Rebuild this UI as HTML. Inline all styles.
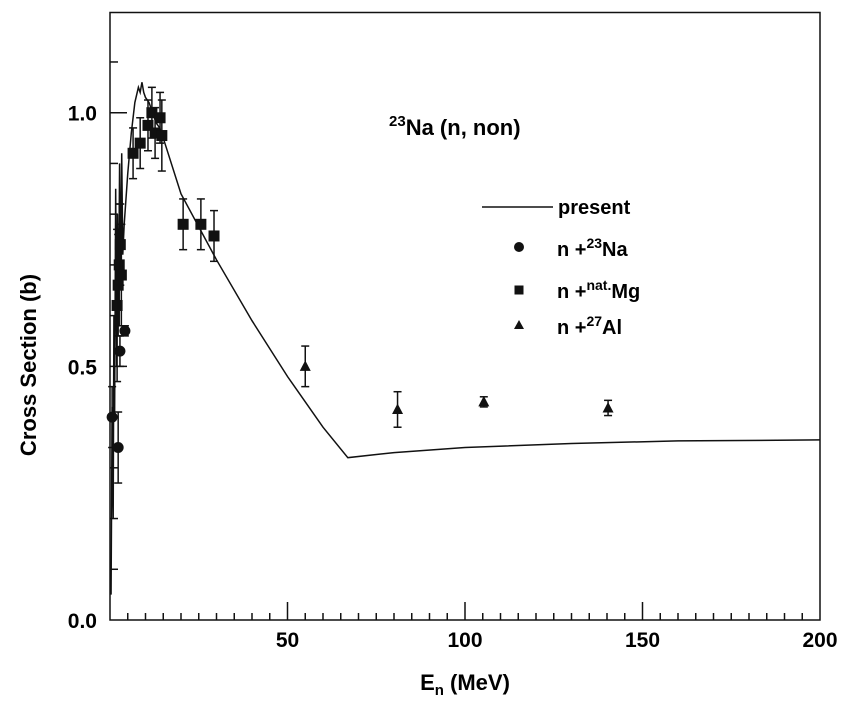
<!DOCTYPE html>
<html><head><meta charset="utf-8"><style>
body{margin:0;background:#fff}
svg{display:block;font-family:"Liberation Sans",Arial,sans-serif;font-weight:bold}
</style></head><body>
<svg id="chart" width="860" height="717" viewBox="0 0 860 717" xmlns="http://www.w3.org/2000/svg">
<g id="axes"></g>
<g id="curve"></g>
<g id="pts"></g>
<text x="389" y="135" font-size="22"><tspan font-size="15" dy="-9">23</tspan><tspan dy="9">Na (n, non)</tspan></text>
<g>
<line x1="482" y1="207" x2="553" y2="207" stroke="#111" stroke-width="1.5"/>
<text x="558" y="214" font-size="20">present</text>
<circle cx="519" cy="247" r="5" fill="#111"/>
<text x="557" y="256" font-size="20">n +<tspan font-size="14" dy="-8">23</tspan><tspan dy="8">Na</tspan></text>
<rect x="514.5" y="285.5" width="9" height="9" fill="#111"/>
<text x="557" y="298" font-size="20">n +<tspan font-size="14" dy="-8">nat.</tspan><tspan dy="8">Mg</tspan></text>
<polygon points="519,320 524,329 514,329" fill="#111"/>
<text x="557" y="334" font-size="20">n +<tspan font-size="14" dy="-8">27</tspan><tspan dy="8">Al</tspan></text>
</g>
<text transform="translate(36,365) rotate(-90)" text-anchor="middle" font-size="22">Cross Section (b)</text>
<text x="465" y="690" text-anchor="middle" font-size="22">E<tspan font-size="15" dy="5">n</tspan><tspan dy="-5"> (MeV)</tspan></text>
</svg>
<script>
const xTicks=[50,100,150,200];
const xTickLabels=["50","100","150","200"];
const yTicks=[0,0.5,1.0];
const yTickLabels=["0.0","0.5","1.0"];
const curveE=[0.3,0.6,0.9,1.1,1.3,1.6,1.9,2.1,2.4,2.7,3.0,3.3,3.6,4,5,6,7,8,8.5,9,9.5,10,11,12,13,14,15,20,30,40,50,60,67,80,100,130,160,200];
const curveS=[0.05,0.42,0.2,0.6,0.4,0.85,0.5,0.8,0.6,0.9,0.68,0.92,0.72,0.78,0.88,0.96,1.02,1.05,1.04,1.06,1.04,1.03,1.02,1.0,0.98,0.97,0.95,0.84,0.71,0.59,0.48,0.38,0.32,0.33,0.34,0.348,0.353,0.355];
const naE=[0.6,2.3,2.8,4.2];
const naS=[0.40,0.34,0.53,0.57];
const naErr=[0.06,0.07,0.03,0.01];
const mgE=[2.0,2.3,2.6,2.9,3.2,6.5,8.5,10.7,11.8,12.7,14.1,14.6,20.6,25.6,29.3];
const mgS=[0.62,0.66,0.70,0.74,0.68,0.92,0.94,0.975,1.0,0.96,0.99,0.955,0.78,0.78,0.757];
const mgErr=[0.15,0.1,0.12,0.08,0.1,0.05,0.05,0.05,0.05,0.05,0.05,0.07,0.05,0.05,0.05];
const alE=[55,81,105.3,140.3];
const alS=[0.50,0.415,0.43,0.418];
const alErr=[0.04,0.035,0.01,0.015];
const NS="http://www.w3.org/2000/svg";
const X0=110,X1=820,Y0=620,Ytop=12.5;
const sx=e=>X0+e*(X1-X0)/200;
const sy=s=>Y0-s*(Y0-112.7);
function mk(t,a,p){const el=document.createElementNS(NS,t);for(const k in a)el.setAttribute(k,a[k]);p.appendChild(el);return el;}
const ax=document.getElementById('axes');
const frame=mk('rect',{x:X0,y:Ytop,width:X1-X0,height:Y0-Ytop,fill:'none',stroke:'#111','stroke-width':1.5},ax);


for(let v=5;v<200;v+=5){const major=v%50===0;const t=mk('line',{x1:sx(v),x2:sx(v),y1:Y0,y2:Y0-(major?18:7),stroke:'#111','stroke-width':1.5},ax);

}
for(let i=1;i<12;i++){const v=i/10;const major=i%5===0;const t=mk('line',{x1:X0,x2:X0+(major?17:8),y1:sy(v),y2:sy(v),stroke:'#111','stroke-width':1.5},ax);

}
xTicks.forEach((v,i)=>{const t=mk('text',{x:sx(v),y:647,'text-anchor':'middle','font-size':21},ax);t.textContent=xTickLabels[i];

});
yTicks.forEach((v,i)=>{const t=mk('text',{x:97,y:sy(v)+8,'text-anchor':'end','font-size':21},ax);t.textContent=yTickLabels[i];

});
const cg=document.getElementById('curve');
const path=mk('polyline',{points:curveE.map((e,i)=>sx(e)+','+sy(curveS[i])).join(' '),fill:'none',stroke:'#111','stroke-width':1.5},cg);


const pg=document.getElementById('pts');
function err(x,s,e){const a=sy(s+e),b=sy(s-e);
const g=mk('g',{stroke:'#111','stroke-width':1.5},pg);


mk('line',{x1:x,x2:x,y1:a,y2:b},g);mk('line',{x1:x-4,x2:x+4,y1:a,y2:a},g);mk('line',{x1:x-4,x2:x+4,y1:b,y2:b},g);}
naE.forEach((e,i)=>{const x=sx(e),y=sy(naS[i]);err(x,naS[i],naErr[i]);const c=mk('circle',{cx:x,cy:y,r:5.5,fill:'#111'},pg);

});
mgE.forEach((e,i)=>{const x=sx(e),y=sy(mgS[i]);err(x,mgS[i],mgErr[i]);const r=mk('rect',{x:x-5.5,y:y-5.5,width:11,height:11,fill:'#111'},pg);

});
alE.forEach((e,i)=>{const x=sx(e),y=sy(alS[i]);err(x,alS[i],alErr[i]);const t=mk('polygon',{points:`${x},${y-6} ${x+5.5},${y+4.5} ${x-5.5},${y+4.5}`,fill:'#111'},pg);

});
</script>
</body></html>
